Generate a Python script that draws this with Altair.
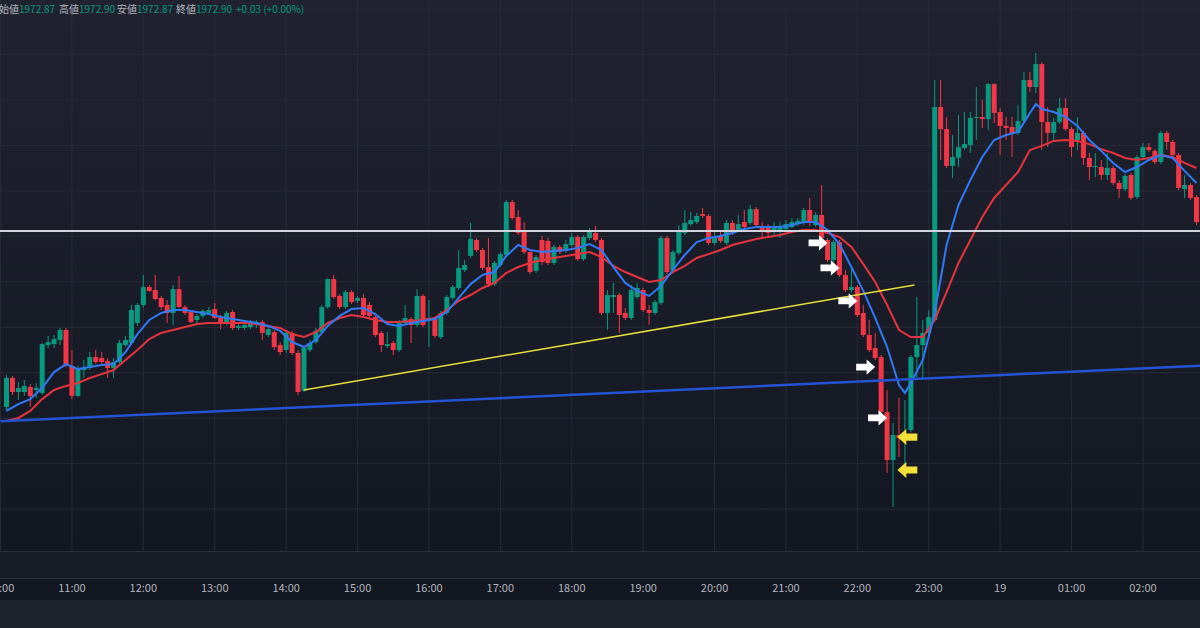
import altair as alt
import pandas as pd

# ---------------- data (5-minute candles, first at 10:05) ----------------
OPEN = [1966.49,1967.77,1967.15,1967.15,1967.37,1967.24,1967.11,1969.22,1969.26,1969.44,
        1969.88,1968.30,1966.98,1968.12,1968.21,1968.69,1968.65,1968.52,1968.21,1968.47,
        1969.22,1969.31,1970.19,1970.98,1971.77,1971.64,1971.29,1970.98,1970.63,1971.68,
        1970.89,1970.67,1970.32,1970.50,1970.63,1970.80,1970.41,1970.19,1970.67,1969.97,
        1969.97,1970.01,1970.10,1970.23,1969.66,1969.79,1969.22,1969.00,1969.75,1968.87,
        1967.20,1969.00,1969.35,1969.79,1970.89,1972.12,1971.38,1970.89,1971.55,1971.16,
        1971.29,1970.98,1970.45,1969.75,1969.18,1969.31,1969.00,1970.19,1970.36,1970.10,
        1971.38,1970.32,1970.36,1969.57,1970.63,1971.29,1971.73,1972.52,1973.14,1973.84,
        1973.40,1972.65,1971.90,1972.74,1973.18,1975.51,1974.85,1974.19,1973.31,1972.48,
        1973.84,1973.80,1972.83,1973.53,1973.36,1973.62,1973.97,1973.00,1973.93,1974.15,
        1973.84,1970.63,1971.33,1971.42,1970.63,1970.41,1971.33,1971.64,1970.76,1970.63,
        1971.07,1973.93,1972.52,1973.27,1974.15,1974.54,1974.63,1974.98,1974.90,1973.71,
        1974.02,1973.71,1974.59,1974.28,1974.63,1974.59,1975.20,1974.46,1974.41,1974.19,
        1974.19,1974.32,1974.41,1974.59,1974.59,1975.16,1974.50,1974.94,1973.84,1972.96,
        1973.75,1972.30,1971.64,1971.77,1970.63,1969.66,1969.09,1968.69,1966.27,1964.16,
        1965.26,1965.13,1965.48,1968.69,1969.22,1969.75,1970.32,1979.69,1978.72,1977.10,
        1977.45,1977.89,1978.02,1979.21,1979.25,1979.16,1980.70,1979.47,1978.86,1978.81,
        1978.55,1979.08,1980.88,1980.57,1981.58,1979.03,1978.55,1979.03,1979.65,1978.72,
        1978.24,1978.55,1977.45,1977.05,1977.05,1976.70,1977.01,1976.35,1976.08,1976.70,
        1975.73,1977.49,1977.93,1977.76,1977.27,1978.55,1978.15,1977.58,1976.08,1976.26,
        1975.73]
HIGH = [1967.90,1967.86,1967.59,1967.68,1967.50,1967.55,1969.31,1969.62,1969.66,1969.97,
        1969.97,1969.00,1968.30,1968.56,1968.91,1969.00,1968.91,1968.65,1968.65,1969.44,
        1969.62,1970.98,1971.07,1972.30,1971.86,1972.30,1971.38,1971.20,1971.86,1972.26,
        1970.98,1970.76,1970.58,1970.80,1970.89,1971.07,1970.54,1970.72,1970.76,1970.23,
        1970.23,1970.32,1970.32,1970.32,1970.10,1969.88,1969.35,1969.88,1969.84,1969.00,
        1969.18,1969.44,1969.97,1970.98,1972.17,1972.30,1971.46,1971.64,1971.64,1971.38,
        1971.46,1971.11,1970.54,1969.84,1969.79,1969.40,1970.32,1970.98,1970.45,1971.68,
        1971.46,1971.20,1970.45,1970.72,1971.42,1971.86,1973.40,1972.96,1974.59,1973.93,
        1973.49,1973.93,1972.92,1973.31,1975.60,1975.60,1975.16,1974.63,1973.40,1973.18,
        1974.02,1973.93,1973.62,1973.62,1973.84,1974.15,1974.06,1974.06,1974.37,1974.46,
        1973.93,1971.64,1971.95,1971.51,1970.85,1971.86,1971.95,1971.73,1970.98,1971.20,
        1974.02,1974.02,1973.40,1974.50,1975.16,1975.07,1975.03,1975.25,1974.98,1974.28,
        1974.28,1974.72,1974.72,1974.94,1975.16,1975.38,1975.29,1974.63,1974.54,1974.63,
        1974.63,1974.72,1974.81,1974.81,1975.25,1975.69,1975.07,1976.26,1973.93,1973.84,
        1973.84,1972.52,1972.61,1971.86,1970.98,1970.32,1969.75,1968.78,1967.24,1965.79,
        1966.89,1966.80,1968.78,1971.33,1970.32,1970.76,1980.88,1980.88,1979.25,1978.46,
        1979.34,1979.47,1979.47,1980.57,1980.00,1980.75,1980.75,1979.65,1979.25,1979.25,
        1979.78,1981.23,1981.23,1982.07,1981.67,1979.69,1979.21,1980.09,1980.09,1978.81,
        1979.25,1978.64,1977.67,1977.67,1977.36,1977.67,1977.10,1976.48,1976.74,1976.79,
        1977.58,1978.11,1978.11,1977.84,1978.64,1978.64,1978.24,1977.67,1976.70,1976.35,
        1975.82]
LOW = [1966.36,1967.02,1966.80,1966.98,1966.49,1966.89,1967.02,1969.09,1969.09,1969.22,
       1968.25,1966.84,1966.93,1967.77,1968.12,1968.38,1968.34,1967.77,1967.77,1968.38,
       1969.13,1969.22,1970.06,1970.85,1971.55,1971.20,1970.76,1970.19,1970.10,1970.85,
       1970.54,1970.19,1970.10,1970.41,1970.54,1970.36,1969.92,1970.10,1969.88,1969.88,
       1969.88,1969.92,1969.97,1969.44,1969.57,1969.00,1968.78,1968.87,1968.78,1967.02,
       1967.15,1968.91,1969.26,1969.70,1970.80,1971.24,1970.80,1970.80,1971.02,1971.07,
       1970.45,1970.41,1969.57,1968.91,1969.09,1968.78,1968.91,1970.10,1969.31,1970.01,
       1970.01,1969.13,1969.53,1969.48,1970.54,1971.20,1971.64,1972.43,1973.05,1973.31,
       1972.52,1971.77,1971.82,1972.65,1973.09,1974.72,1974.06,1973.22,1972.34,1972.39,
       1972.74,1972.74,1972.74,1973.22,1973.27,1973.53,1972.92,1972.92,1973.84,1973.75,
       1970.54,1969.88,1970.63,1969.75,1970.32,1970.32,1971.24,1970.67,1970.10,1970.54,
       1970.98,1972.34,1972.43,1973.18,1974.06,1974.46,1974.54,1974.81,1973.62,1973.62,
       1973.71,1973.62,1974.06,1974.19,1974.32,1974.50,1974.41,1973.93,1973.93,1974.02,
       1973.93,1974.19,1974.37,1974.46,1974.50,1974.46,1974.41,1973.84,1972.87,1972.87,
       1972.21,1971.55,1971.51,1970.45,1969.57,1968.91,1968.56,1966.18,1963.59,1962.09,
       1964.29,1963.41,1965.39,1967.68,1967.77,1969.44,1970.23,1977.36,1977.01,1976.57,
       1977.05,1977.80,1977.67,1978.24,1978.77,1978.68,1978.99,1977.58,1978.24,1977.49,
       1978.46,1978.99,1980.35,1980.31,1977.80,1977.93,1978.24,1978.94,1978.64,1977.49,
       1977.80,1977.14,1976.48,1976.61,1976.48,1976.48,1976.26,1975.69,1975.99,1975.60,
       1975.64,1977.40,1977.71,1977.18,1977.18,1977.80,1977.49,1976.04,1975.69,1975.60,
       1974.50]
CLOSE = [1967.77,1967.15,1967.33,1967.42,1966.98,1967.33,1969.26,1969.35,1969.48,1969.88,
         1968.34,1966.98,1968.21,1968.21,1968.69,1968.47,1968.47,1968.21,1968.47,1969.31,
         1969.44,1970.76,1970.98,1971.77,1971.60,1971.24,1970.89,1970.63,1971.68,1970.89,
         1970.63,1970.23,1970.50,1970.72,1970.76,1970.41,1970.19,1970.63,1969.97,1970.06,
         1970.10,1970.19,1970.23,1969.75,1969.92,1969.13,1968.91,1969.75,1968.87,1967.15,
         1969.09,1969.31,1969.84,1970.89,1972.12,1971.33,1970.89,1971.55,1971.11,1971.29,
         1970.54,1970.50,1969.66,1969.22,1969.26,1969.00,1970.19,1970.41,1970.10,1971.38,
         1970.10,1970.41,1969.62,1970.63,1971.33,1971.77,1972.61,1972.74,1973.88,1973.40,
         1972.61,1971.90,1972.83,1973.22,1975.51,1974.81,1974.15,1973.31,1972.43,1973.09,
         1972.87,1972.83,1973.53,1973.31,1973.66,1973.97,1973.00,1973.97,1974.19,1973.84,
         1970.63,1971.42,1971.42,1970.54,1970.41,1971.64,1971.73,1970.76,1970.63,1971.11,
         1973.93,1972.43,1973.31,1974.28,1974.59,1974.72,1974.90,1974.90,1973.71,1973.97,
         1973.80,1974.59,1974.15,1974.54,1974.41,1975.20,1974.50,1974.28,1974.15,1974.37,
         1974.41,1974.54,1974.63,1974.68,1975.16,1974.59,1974.94,1973.93,1972.96,1973.75,
         1972.30,1971.64,1971.77,1970.54,1969.66,1969.00,1968.65,1966.27,1964.16,1965.26,
         1965.13,1965.22,1968.69,1969.22,1969.75,1970.45,1979.69,1978.72,1977.10,1977.49,
         1977.93,1978.06,1979.21,1979.25,1979.16,1980.70,1979.43,1978.86,1978.77,1978.55,
         1979.08,1980.88,1980.57,1981.58,1979.03,1978.55,1979.03,1979.65,1978.72,1977.93,
         1978.55,1977.45,1977.05,1977.10,1976.70,1977.01,1976.35,1976.08,1976.66,1975.69,
         1977.49,1977.93,1977.80,1977.27,1978.55,1978.15,1977.58,1976.13,1976.26,1975.69,
         1974.63]

# moving averages (by candle index)
FAST_IDX = list(range(0, 151, 2)) + [151] + list(range(152, 173, 2)) + [173] + list(range(174, 201, 2))
FAST_MA = [1966.32,1966.62,1966.84,1967.33,1968.03,1968.38,1968.16,1968.25,1968.34,1968.38,
           1968.91,1969.70,1970.32,1970.63,1970.76,1970.76,1970.67,1970.58,1970.45,1970.36,
           1970.28,1970.19,1970.06,1969.84,1969.35,1969.13,1969.44,1970.06,1970.50,1970.80,
           1970.85,1970.58,1970.14,1970.06,1970.19,1970.28,1970.36,1970.67,1971.29,1971.90,
           1972.30,1972.43,1973.14,1973.62,1973.40,1973.31,1973.36,1973.40,1973.49,1973.66,
           1973.40,1972.65,1971.95,1971.60,1971.38,1971.82,1972.52,1973.18,1973.75,1973.93,
           1974.02,1974.15,1974.32,1974.41,1974.41,1974.41,1974.50,1974.63,1974.63,1974.28,
           1973.66,1972.65,1971.60,1970.41,1969.13,1967.46,1967.11,1967.55,1968.56,1970.63,
           1973.62,1975.38,1976.48,1977.49,1978.24,1978.46,1978.59,1979.43,1979.82,1979.60,
           1979.47,1979.25,1978.86,1978.24,1977.76,1977.23,1976.83,1977.05,1977.36,1977.58,
           1977.45,1976.88,1976.35]
SLOW_IDX = list(range(0, 201, 2))
SLOW_MA = [1965.88,1966.01,1966.32,1966.84,1967.24,1967.42,1967.55,1967.77,1967.94,1968.12,
           1968.56,1969.00,1969.48,1969.75,1969.88,1970.01,1970.14,1970.19,1970.19,1970.19,
           1970.19,1970.14,1970.06,1969.97,1969.70,1969.57,1969.79,1970.19,1970.41,1970.54,
           1970.45,1970.32,1970.23,1970.23,1970.28,1970.32,1970.41,1970.76,1971.16,1971.42,
           1971.73,1971.95,1972.39,1972.65,1972.83,1972.96,1973.05,1973.14,1973.22,1973.31,
           1973.09,1972.70,1972.43,1972.21,1971.99,1972.08,1972.43,1972.70,1973.05,1973.22,
           1973.40,1973.62,1973.75,1973.88,1973.97,1974.06,1974.19,1974.28,1974.28,1974.15,
           1973.97,1973.53,1972.78,1971.99,1970.98,1969.88,1969.57,1969.57,1970.32,1971.55,
           1972.83,1973.84,1974.85,1975.69,1976.26,1976.83,1977.80,1977.98,1978.20,1978.24,
           1978.20,1978.06,1977.84,1977.67,1977.45,1977.36,1977.45,1977.58,1977.49,1977.23,
           1977.01]

# drawn objects (minutes after 10:00, price)
SUPPORT_T = [0, 1010]
SUPPORT_P = [1965.86, 1968.31]
YELLOW_T = [255, 768]
YELLOW_P = [1967.24, 1971.86]
LEVEL_P = [1974.24]
WHITE_ARROW_T = [687, 697, 712, 727, 737]
WHITE_ARROW_P = [1973.71, 1972.61, 1971.16, 1968.25, 1966.01]
YELLOW_ARROW_T = [762, 762]
YELLOW_ARROW_P = [1965.17, 1963.72]

GRID_P = [1962, 1964, 1966, 1968, 1970, 1972, 1974, 1976, 1978, 1980, 1982, 1984]
TICK_MIN = [0, 60, 120, 180, 240, 300, 360, 420, 480, 540, 600, 660, 720, 780, 840, 900, 960]
TICK_LABELS = ["10:00", "11:00", "12:00", "13:00", "14:00", "15:00", "16:00", "17:00", "18:00",
               "19:00", "20:00", "21:00", "22:00", "23:00", "19", "01:00", "02:00"]

HEADER_NAMES = ["始値", "高値", "安値", "終値"]
HEADER_VALUES = ["1972.87", "1972.90", "1972.87", "1972.90"]
HEADER_CHANGE = "+0.03 (+0.00%)"

# ---------------- styling ----------------
GREEN = "#089981"
RED = "#f23645"
FAST_COLOR = "#3179f5"
SLOW_COLOR = "#e4343f"
SUPPORT_COLOR = "#2453d6"
YELLOW = "#e6df3c"
TEXT = "#b2b5be"
FONT = "Noto Sans CJK JP"

W, H = 1200, 551
X = alt.Scale(domain=[3.75, 1003.75], nice=False, zero=False)
Y = alt.Scale(domain=[1960.156, 1984.4], nice=False, zero=False)


def xq(f):
    return alt.X(f"{f}:Q", scale=X, axis=None)


def yq(f):
    return alt.Y(f"{f}:Q", scale=Y, axis=None)


n = len(OPEN)
candles = pd.DataFrame({"t": [5 + 5 * i for i in range(n)],
                        "open": OPEN, "high": HIGH, "low": LOW, "close": CLOSE})
fast = pd.DataFrame({"t": [5 + 5 * i for i in FAST_IDX], "v": FAST_MA})
slow = pd.DataFrame({"t": [5 + 5 * i for i in SLOW_IDX], "v": SLOW_MA})
support = pd.DataFrame({"t": SUPPORT_T, "p": SUPPORT_P})
yline = pd.DataFrame({"t": YELLOW_T, "p": YELLOW_P})
level = pd.DataFrame({"p": LEVEL_P})
warrows = pd.DataFrame({"t": WHITE_ARROW_T, "p": WHITE_ARROW_P})
yarrows = pd.DataFrame({"t": YELLOW_ARROW_T, "p": YELLOW_ARROW_P})
grid = pd.DataFrame({"p": GRID_P})
ticks = pd.DataFrame({"m": TICK_MIN, "label": TICK_LABELS})
one = alt.Data(values=[{"a": 1}])

up = alt.condition("datum.close >= datum.open", alt.value(GREEN), alt.value(RED))

bg = alt.Chart(one).mark_rect(
    color=alt.LinearGradient(gradient="linear", x1=0, x2=0, y1=0, y2=1,
                             stops=[alt.GradientStop(color="#20232f", offset=0),
                                    alt.GradientStop(color="#131722", offset=1)])
).encode(x=alt.value(0), x2=alt.value(W), y=alt.value(0), y2=alt.value(H))

band1 = alt.Chart(one).mark_rect(color="#181c27").encode(
    x=alt.value(0), x2=alt.value(W), y=alt.value(H), y2=alt.value(578))
band2 = alt.Chart(one).mark_rect(color="#131722").encode(
    x=alt.value(0), x2=alt.value(W), y=alt.value(578), y2=alt.value(600))
sep1 = alt.Chart(one).mark_rule(color="#2a2e39", strokeWidth=1).encode(
    x=alt.value(0), x2=alt.value(W), y=alt.value(H + 0.5))
sep2 = alt.Chart(one).mark_rule(color="#2a2e39", strokeWidth=1).encode(
    x=alt.value(0), x2=alt.value(W), y=alt.value(578.5))

hgrid = alt.Chart(grid).mark_rule(color="#272b37", strokeWidth=1).encode(y=yq("p"))
vgrid = alt.Chart(ticks).mark_rule(color="#272b37", strokeWidth=1, clip=True).encode(
    x=xq("m"), y=alt.value(0), y2=alt.value(H))

wicks = alt.Chart(candles).mark_rule(strokeWidth=1, clip=True).encode(
    x=xq("t"), y=yq("low"), y2="high", color=up)
bodies = alt.Chart(candles).mark_bar(size=5, clip=True).encode(
    x=xq("t"), y=yq("open"), y2="close", color=up)

slow_line = alt.Chart(slow).mark_line(color=SLOW_COLOR, strokeWidth=2, clip=True).encode(
    x=xq("t"), y=yq("v"))
fast_line = alt.Chart(fast).mark_line(color=FAST_COLOR, strokeWidth=2, clip=True).encode(
    x=xq("t"), y=yq("v"))

support_line = alt.Chart(support).mark_line(color=SUPPORT_COLOR, strokeWidth=2.5, clip=True).encode(
    x=xq("t"), y=yq("p"))
yellow_line = alt.Chart(yline).mark_line(color=YELLOW, strokeWidth=1.5, clip=True).encode(
    x=xq("t"), y=yq("p"))
level_line = alt.Chart(level).mark_rule(color="#d1d4dc", strokeWidth=2).encode(y=yq("p"))

RIGHT_ARROW = "M -1 -0.36 L 0.1 -0.36 L 0.1 -0.8 L 1 0 L 0.1 0.8 L 0.1 0.36 L -1 0.36 Z"
LEFT_ARROW = "M 1 -0.36 L -0.1 -0.36 L -0.1 -0.8 L -1 0 L -0.1 0.8 L -0.1 0.36 L 1 0.36 Z"
warrow_mk = alt.Chart(warrows).mark_point(shape=RIGHT_ARROW, filled=True, size=361, opacity=1,
                                          color="#ffffff", strokeWidth=0).encode(
    x=xq("t"), y=yq("p"))
yarrow_mk = alt.Chart(yarrows).mark_point(shape=LEFT_ARROW, filled=True, size=400, opacity=1,
                                          color="#f3e03b", strokeWidth=0).encode(
    x=xq("t"), y=yq("p"))

xlabels = alt.Chart(ticks).mark_text(font=FONT, fontSize=11, color=TEXT, baseline="middle").encode(
    x=xq("m"), y=alt.value(589), text="label:N")

header = []
name_x = [-1, 59, 117, 176]
for i, (nm, val) in enumerate(zip(HEADER_NAMES, HEADER_VALUES)):
    header.append(alt.Chart(one).mark_text(text=nm, font=FONT, fontSize=10, color=TEXT,
                                           align="left", baseline="middle", x=name_x[i], y=10))
    header.append(alt.Chart(one).mark_text(text=val, font=FONT, fontSize=10, color=GREEN,
                                           align="left", baseline="middle", x=name_x[i] + 20, y=10))
header.append(alt.Chart(one).mark_text(text=HEADER_CHANGE, font=FONT, fontSize=10, color=GREEN,
                                       align="left", baseline="middle", x=236, y=10))

chart = alt.layer(
    bg, band1, band2, sep1, sep2, hgrid, vgrid,
    wicks, bodies, slow_line, fast_line,
    support_line, yellow_line, level_line,
    warrow_mk, yarrow_mk, xlabels, *header
).properties(
    width=W, height=H,
    padding={"left": 0, "right": 0, "top": 0, "bottom": 77},
    autosize=alt.AutoSizeParams(type="none"),
    background="#1e222d",
).configure_view(stroke=None)

chart.save("out.html", embed_options={"renderer": "svg", "actions": False})
